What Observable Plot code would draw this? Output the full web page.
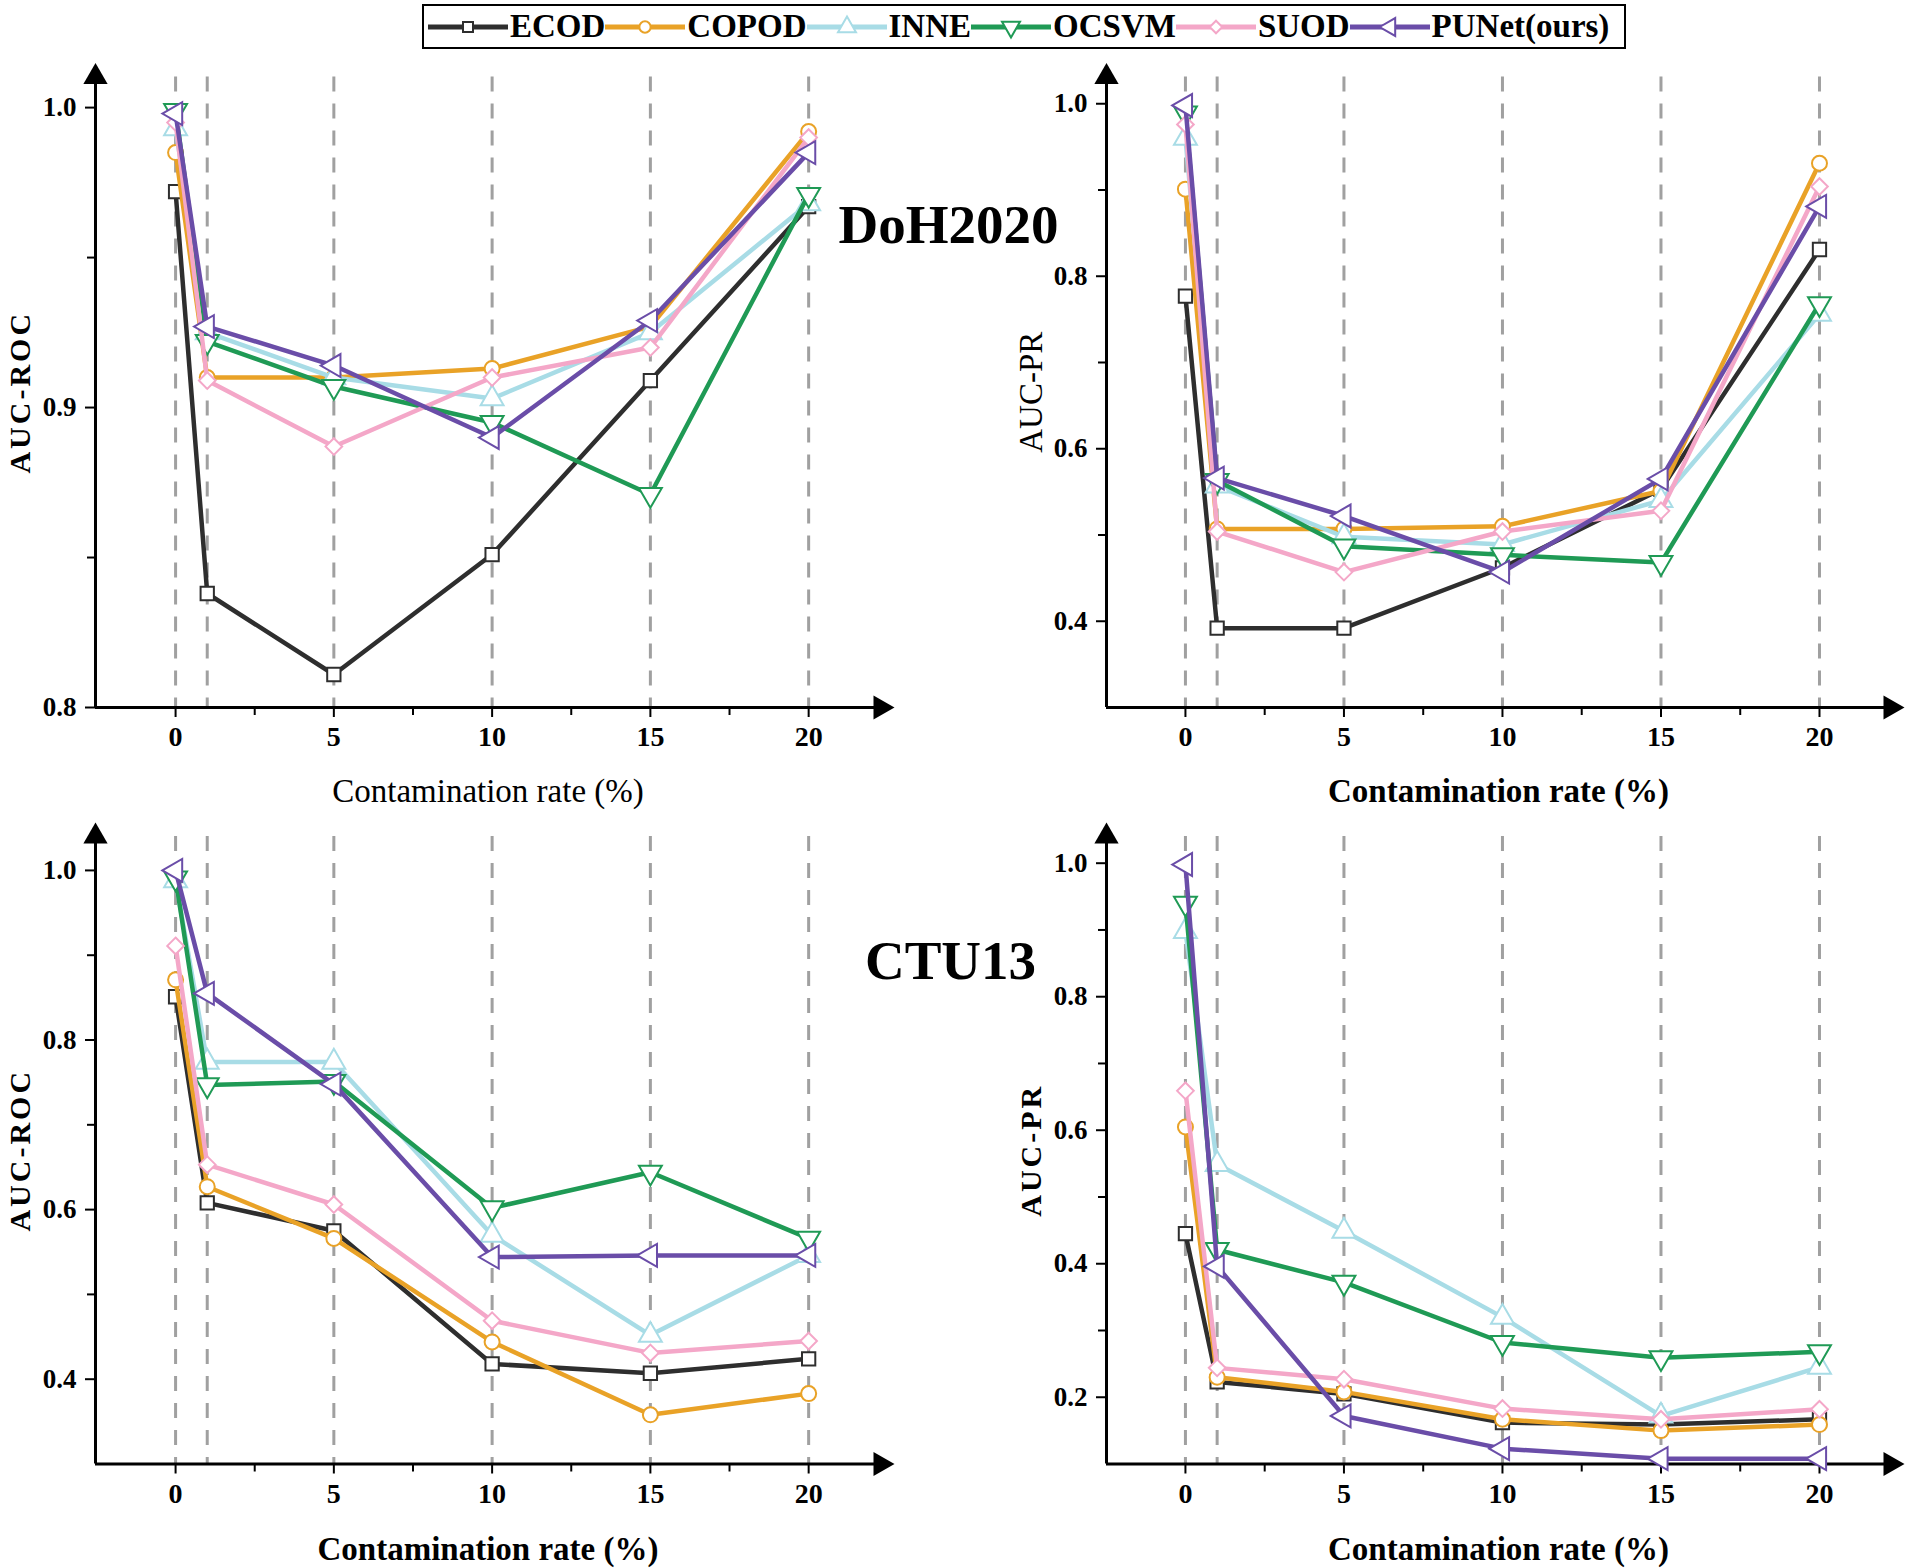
<!DOCTYPE html>
<html>
<head>
<meta charset="utf-8">
<script src="https://cdn.jsdelivr.net/npm/d3@7"></script>
<script src="https://cdn.jsdelivr.net/npm/@observablehq/plot@0.6"></script>
<style>
html, body { margin: 0; padding: 0; background: #fff; }
#page { position: relative; width: 1905px; height: 1568px; overflow: hidden; font-family: "Liberation Serif", "Times New Roman", serif; }
.panel { position: absolute; }
#legend { position: absolute; left: 422px; top: 4px; width: 1196px; height: 41px; border: 2px solid #000; display: flex; align-items: center; padding-left: 4px; box-sizing: content-box; }
#legend .item { display: flex; align-items: center; }
#legend .lab { font-weight: bold; font-size: 33px; margin-left: 2px; color: #000; line-height: 1; }
</style>
</head>
<body>
<div id="page">
  <div id="legend"></div>
</div>
<script>
// ---------------- data ----------------
const rates = [0, 1, 5, 10, 15, 20];
const methods = ["ECOD", "COPOD", "INNE", "OCSVM", "SUOD", "PUNet(ours)"];
const colors = ["#2e2e2e", "#E9A227", "#A8DCE6", "#1F9A55", "#F4A7C8", "#6A4DA8"];
const symbols = ["square", "circle", "triangle", "triangle", "diamond2", "triangle"];
const rotations = [0, 0, 0, 180, 0, -90];

// rows: ECOD, COPOD, INNE, OCSVM, SUOD, PUNet(ours); columns follow rates
const dohRoc = [
  [0.972, 0.838, 0.811, 0.851, 0.909, 0.967],
  [0.985, 0.910, 0.910, 0.913, 0.927, 0.992],
  [0.993, 0.925, 0.910, 0.903, 0.925, 0.968],
  [0.999, 0.922, 0.907, 0.895, 0.871, 0.971],
  [0.995, 0.909, 0.887, 0.910, 0.920, 0.990],
  [0.998, 0.927, 0.914, 0.890, 0.929, 0.985]
];
const dohPr = [
  [0.777, 0.392, 0.392, 0.462, 0.553, 0.831],
  [0.901, 0.507, 0.507, 0.510, 0.551, 0.931],
  [0.960, 0.557, 0.498, 0.489, 0.540, 0.756],
  [0.989, 0.563, 0.487, 0.477, 0.468, 0.768],
  [0.976, 0.504, 0.457, 0.504, 0.528, 0.904],
  [0.998, 0.566, 0.522, 0.457, 0.565, 0.881]
];
const ctuRoc = [
  [0.851, 0.608, 0.575, 0.418, 0.407, 0.424],
  [0.871, 0.627, 0.566, 0.444, 0.358, 0.383],
  [0.988, 0.774, 0.774, 0.570, 0.452, 0.546],
  [0.991, 0.747, 0.751, 0.602, 0.644, 0.566],
  [0.911, 0.653, 0.606, 0.469, 0.431, 0.445],
  [1.000, 0.855, 0.748, 0.544, 0.546, 0.546]
];
const ctuPr = [
  [0.445, 0.223, 0.205, 0.162, 0.159, 0.167],
  [0.605, 0.230, 0.208, 0.167, 0.150, 0.159],
  [0.898, 0.549, 0.449, 0.320, 0.172, 0.245],
  [0.940, 0.421, 0.372, 0.282, 0.259, 0.268],
  [0.659, 0.244, 0.227, 0.183, 0.167, 0.182],
  [0.998, 0.396, 0.172, 0.123, 0.108, 0.108]
];

const xMajor = [0, 5, 10, 15, 20];
const xMinor = [2.5, 7.5, 12.5, 17.5];
const rocMajor = [0.8, 0.9, 1.0];
const rocMinor = [0.85, 0.95];
const prMajorTop = [0.4, 0.6, 0.8, 1.0];
const prMinorTop = [0.5, 0.7, 0.9];
const rocMajorBot = [0.4, 0.6, 0.8, 1.0];
const rocMinorBot = [0.5, 0.7, 0.9];
const prMajorBot = [0.2, 0.4, 0.6, 0.8, 1.0];
const prMinorBot = [0.3, 0.5, 0.7, 0.9];
const xTitle = "Contamination rate (%)";

// ---------------- legend ----------------
const symbolTypes = {square: d3.symbolSquare, circle: d3.symbolCircle, triangle: d3.symbolTriangle, diamond2: d3.symbolDiamond2};
const legend = d3.select("#legend");
methods.forEach((m, i) => {
  const item = legend.append("div").attr("class", "item");
  const s = item.append("svg").attr("width", 80).attr("height", 30);
  s.append("line").attr("x1", 0).attr("x2", 80).attr("y1", 15).attr("y2", 15)
    .attr("stroke", colors[i]).attr("stroke-width", 5);
  s.append("path").attr("d", d3.symbol().type(symbolTypes[symbols[i]]).size(symbols[i] === "triangle" ? 140 : 100)())
    .attr("transform", `translate(40,15) rotate(${rotations[i]})`)
    .attr("fill", "#fff").attr("stroke", colors[i]).attr("stroke-width", 2);
  item.append("span").attr("class", "lab").text(m);
});

// ---------------- panels ----------------
function panel(o) {
  const rows = [];
  o.vals.forEach((arr, i) => arr.forEach((v, j) => rows.push({method: methods[i], x: rates[j], y: v})));
  const marks = [];
  marks.push(Plot.ruleX(rates, {stroke: "#a0a0a0", strokeWidth: 3, strokeDasharray: "15,12"}));
  marks.push(Plot.ruleY([o.yDomain[0]], {stroke: "#000", strokeWidth: 3}));
  marks.push(Plot.ruleX([o.xDomain[0]], {stroke: "#000", strokeWidth: 3}));
  marks.push(Plot.dot([[o.xDomain[1], o.yDomain[0]]], {x: d => d[0], y: d => d[1], symbol: "triangle", rotate: 90, fill: "#000", stroke: "none", r: 9}));
  marks.push(Plot.dot([[o.xDomain[0], o.yDomain[1]]], {x: d => d[0], y: d => d[1], symbol: "triangle", rotate: 0, fill: "#000", stroke: "none", r: 9}));
  marks.push(Plot.axisX(xMinor, {tickSize: 8, tickFormat: () => "", label: null, strokeWidth: 2}));
  marks.push(Plot.axisX(xMajor, {tickSize: 10, tickPadding: 9, label: null, strokeWidth: 2, fontSize: 28, fontWeight: "bold"}));
  marks.push(Plot.axisY(o.yMinor, {tickSize: 8, tickFormat: () => "", label: null, strokeWidth: 2}));
  marks.push(Plot.axisY(o.yMajor, {tickSize: 10, tickPadding: 9, tickFormat: ".1f", label: null, strokeWidth: 2, fontSize: 27, fontWeight: "bold"}));
  methods.forEach((m, i) => {
    const d = rows.filter(r => r.method === m);
    marks.push(Plot.line(d, {x: "x", y: "y", stroke: colors[i], strokeWidth: 4.5}));
    marks.push(Plot.dot(d, {x: "x", y: "y", symbol: symbols[i], rotate: rotations[i], r: symbols[i] === "triangle" ? 8.5 : 7.5, fill: "#fff", stroke: colors[i], strokeWidth: 2}));
  });
  marks.push(Plot.text([o.yTitle], {frameAnchor: "left", dx: -75, rotate: -90, text: d => d, fontSize: o.yBold ? 30 : 33, fontWeight: o.yBold ? "bold" : "normal", textAnchor: "middle", lineAnchor: "middle"}));
  marks.push(Plot.text([xTitle], {frameAnchor: "bottom", dy: o.xTitleDy, text: d => d, fontSize: 33, fontWeight: o.xBold ? "bold" : "normal", textAnchor: "middle", lineAnchor: "middle"}));
  if (o.label) {
    marks.push(Plot.text([o.label], {frameAnchor: "top-right", dx: o.labelDx, dy: o.labelDy, text: d => d, fontSize: 55, fontWeight: "bold", textAnchor: "middle", lineAnchor: "bottom"}));
  }
  const svg = Plot.plot({
    width: o.width, height: o.height,
    marginTop: o.mt, marginBottom: o.mb, marginLeft: o.ml, marginRight: o.mr,
    x: {domain: o.xDomain, label: null},
    y: {domain: o.yDomain, label: null},
    style: {fontFamily: "'Liberation Serif', 'Times New Roman', serif", background: "transparent", overflow: "visible", color: "#000"},
    marks
  });
  if (o.yBold) {
    d3.select(svg).selectAll("text").filter(function () { return this.textContent === o.yTitle; }).attr("letter-spacing", "3px");
  }
  const div = document.createElement("div");
  div.className = "panel";
  div.style.left = o.left + "px";
  div.style.top = o.top + "px";
  div.appendChild(svg);
  document.getElementById("page").appendChild(div);
}

panel({vals: dohRoc, yDomain: [0.8, 1.0102], yMajor: rocMajor, yMinor: rocMinor, xDomain: [-2.53, 22.27],
  left: 0, top: 0, width: 1100, height: 800, mt: 76.5, mb: 93, ml: 95, mr: 220,
  yTitle: "AUC-ROC", yBold: true, xBold: false, xTitleDy: 84, label: "DoH2020", labelDx: 68, labelDy: 166});
panel({vals: dohPr, yDomain: [0.3, 1.031], yMajor: prMajorTop, yMinor: prMinorTop, xDomain: [-2.49, 22.24],
  left: 952, top: 0, width: 953, height: 800, mt: 76.5, mb: 93, ml: 154, mr: 15,
  yTitle: "AUC-PR", yBold: false, xBold: true, xTitleDy: 84});
panel({vals: ctuRoc, yDomain: [0.3, 1.04], yMajor: rocMajorBot, yMinor: rocMinorBot, xDomain: [-2.53, 22.27],
  left: 0, top: 784, width: 1100, height: 784, mt: 52, mb: 104.5, ml: 95, mr: 220,
  yTitle: "AUC-ROC", yBold: true, xBold: true, xTitleDy: 85, label: "CTU13", labelDx: 70, labelDy: 142});
panel({vals: ctuPr, yDomain: [0.1, 1.04], yMajor: prMajorBot, yMinor: prMinorBot, xDomain: [-2.49, 22.24],
  left: 952, top: 784, width: 953, height: 784, mt: 52, mb: 104.5, ml: 154, mr: 15,
  yTitle: "AUC-PR", yBold: true, xBold: true, xTitleDy: 85});
</script>
</body>
</html>
